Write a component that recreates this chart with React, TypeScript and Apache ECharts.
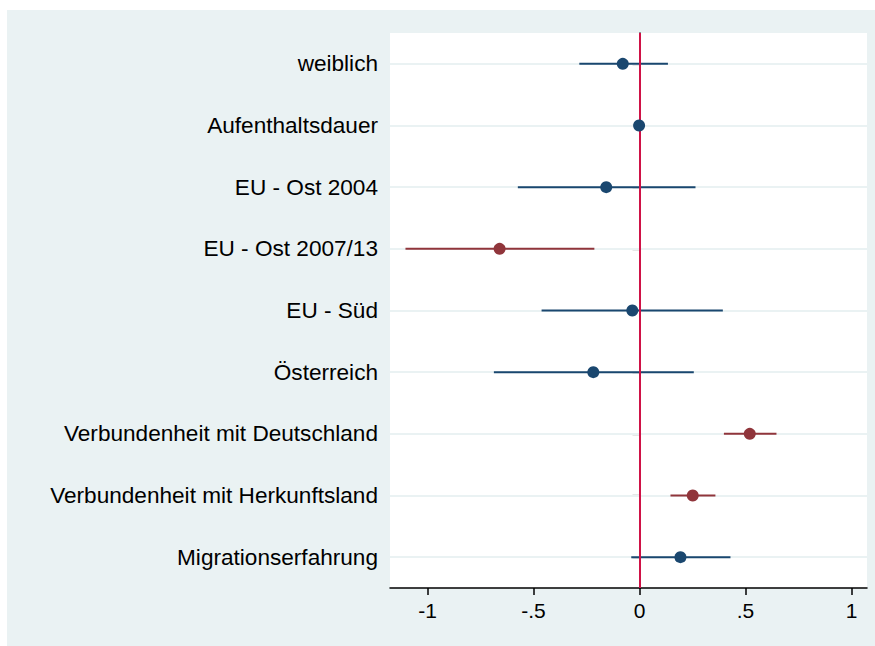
import React, { useEffect, useRef } from "react";
import * as echarts from "echarts";

const categories = [
  "weiblich",
  "Aufenthaltsdauer",
  "EU - Ost 2004",
  "EU - Ost 2007/13",
  "EU - Süd",
  "Österreich",
  "Verbundenheit mit Deutschland",
  "Verbundenheit mit Herkunftsland",
  "Migrationserfahrung",
];
const estimates = [-0.079, -0.002, -0.157, -0.66, -0.034, -0.218, 0.52, 0.251, 0.193];
const ciLower = [-0.284, -0.006, -0.574, -1.104, -0.462, -0.687, 0.398, 0.146, -0.039];
const ciUpper = [0.134, 0.002, 0.264, -0.213, 0.393, 0.256, 0.646, 0.358, 0.429];
const xTicks = [-1, -0.5, 0, 0.5, 1];

const NAVY = "#1a476f";
const MAROON = "#90353b";
const XLINE = "#cf1246";
const BG = "#eaf2f3";
const FONT = "Liberation Sans, Arial, sans-serif";

function fmtTick(v: number): string {
  if (v === 0) return "0";
  if (Number.isInteger(v)) return String(v);
  return String(v).replace("0.", ".");
}

export default function App() {
  const ref = useRef<HTMLDivElement>(null);
  useEffect(() => {
    if (!ref.current) return;
    const chart = echarts.init(ref.current, undefined, { renderer: "svg" });
    const colorOf = (i: number) => (ciLower[i] > 0 || ciUpper[i] < 0 ? MAROON : NAVY);
    const ciData = categories.map((c, i) => [ciLower[i], ciUpper[i], i]);
    const pointData = categories.map((c, i) => ({
      value: [estimates[i], i],
      itemStyle: { color: colorOf(i), opacity: 1 },
    }));
    chart.setOption({
      animation: false,
      backgroundColor: "#ffffff",
      graphic: [
        {
          type: "rect",
          z: -10,
          silent: true,
          shape: { x: 7, y: 10, width: 875, height: 646 },
          style: { fill: BG },
        },
      ],
      grid: {
        left: 390,
        top: 33,
        right: 8,
        bottom: 58,
        show: true,
        backgroundColor: "#ffffff",
        borderWidth: 0,
      },
      xAxis: {
        type: "value",
        min: -1.177,
        max: 1.073,
        axisLine: { show: true, onZero: false, lineStyle: { color: "#000", width: 1.5 } },
        axisTick: {
          show: true,
          length: 7,
          customValues: xTicks,
          lineStyle: { color: "#000", width: 1.5 },
        },
        splitLine: { show: false },
        axisLabel: {
          show: true,
          fontSize: 21,
          color: "#000",
          margin: 12,
          fontFamily: FONT,
          customValues: xTicks,
          formatter: (v: number) => fmtTick(v),
        },
      },
      yAxis: {
        type: "category",
        data: categories,
        inverse: true,
        boundaryGap: true,
        axisLine: { show: true, lineStyle: { color: "#000", width: 1.5 } },
        axisTick: { show: true, alignWithLabel: true, length: 7, lineStyle: { color: "#000", width: 1.2 } },
        splitLine: { show: false },
        axisLabel: {
          fontSize: 22.6,
          color: "#000",
          margin: 12,
          fontFamily: FONT,
        },
      },
      series: [
        {
          type: "scatter",
          name: "gridlines",
          z: 1,
          silent: true,
          symbolSize: 0,
          itemStyle: { opacity: 0 },
          data: categories.map((c, i) => [0, i]),
          markLine: {
            silent: true,
            z: 1,
            symbol: "none",
            label: { show: false },
            lineStyle: { color: BG, width: 2, type: "solid" },
            data: categories.map((c, i) => ({ yAxis: i })),
          },
        },
        {
          type: "custom",
          name: "ci",
          z: 3,
          silent: true,
          data: ciData,
          encode: { x: [0, 1], y: 2 },
          renderItem: (params: any, api: any) => {
            const i = params.dataIndex;
            const a = api.coord([api.value(0), api.value(2)]);
            const b = api.coord([api.value(1), api.value(2)]);
            return {
              type: "line",
              shape: { x1: a[0], y1: a[1], x2: b[0], y2: b[1] },
              style: { stroke: colorOf(i), lineWidth: 2 },
            };
          },
        },
        {
          type: "scatter",
          name: "zero",
          z: 4,
          silent: true,
          symbolSize: 0,
          itemStyle: { opacity: 0 },
          data: [[0, 0]],
          markLine: {
            silent: true,
            z: 4,
            symbol: "none",
            label: { show: false },
            lineStyle: { color: XLINE, width: 2, type: "solid" },
            data: [{ xAxis: 0 }],
          },
        },
        {
          type: "scatter",
          name: "est",
          z: 5,
          symbol: "circle",
          symbolSize: 12,
          itemStyle: { opacity: 1 },
          data: pointData,
        },
      ],
    });
    return () => chart.dispose();
  }, []);
  return (
    <div
      ref={ref}
      style={{ position: "fixed", left: 0, top: 0, width: 875, height: 646 }}
    />
  );
}
